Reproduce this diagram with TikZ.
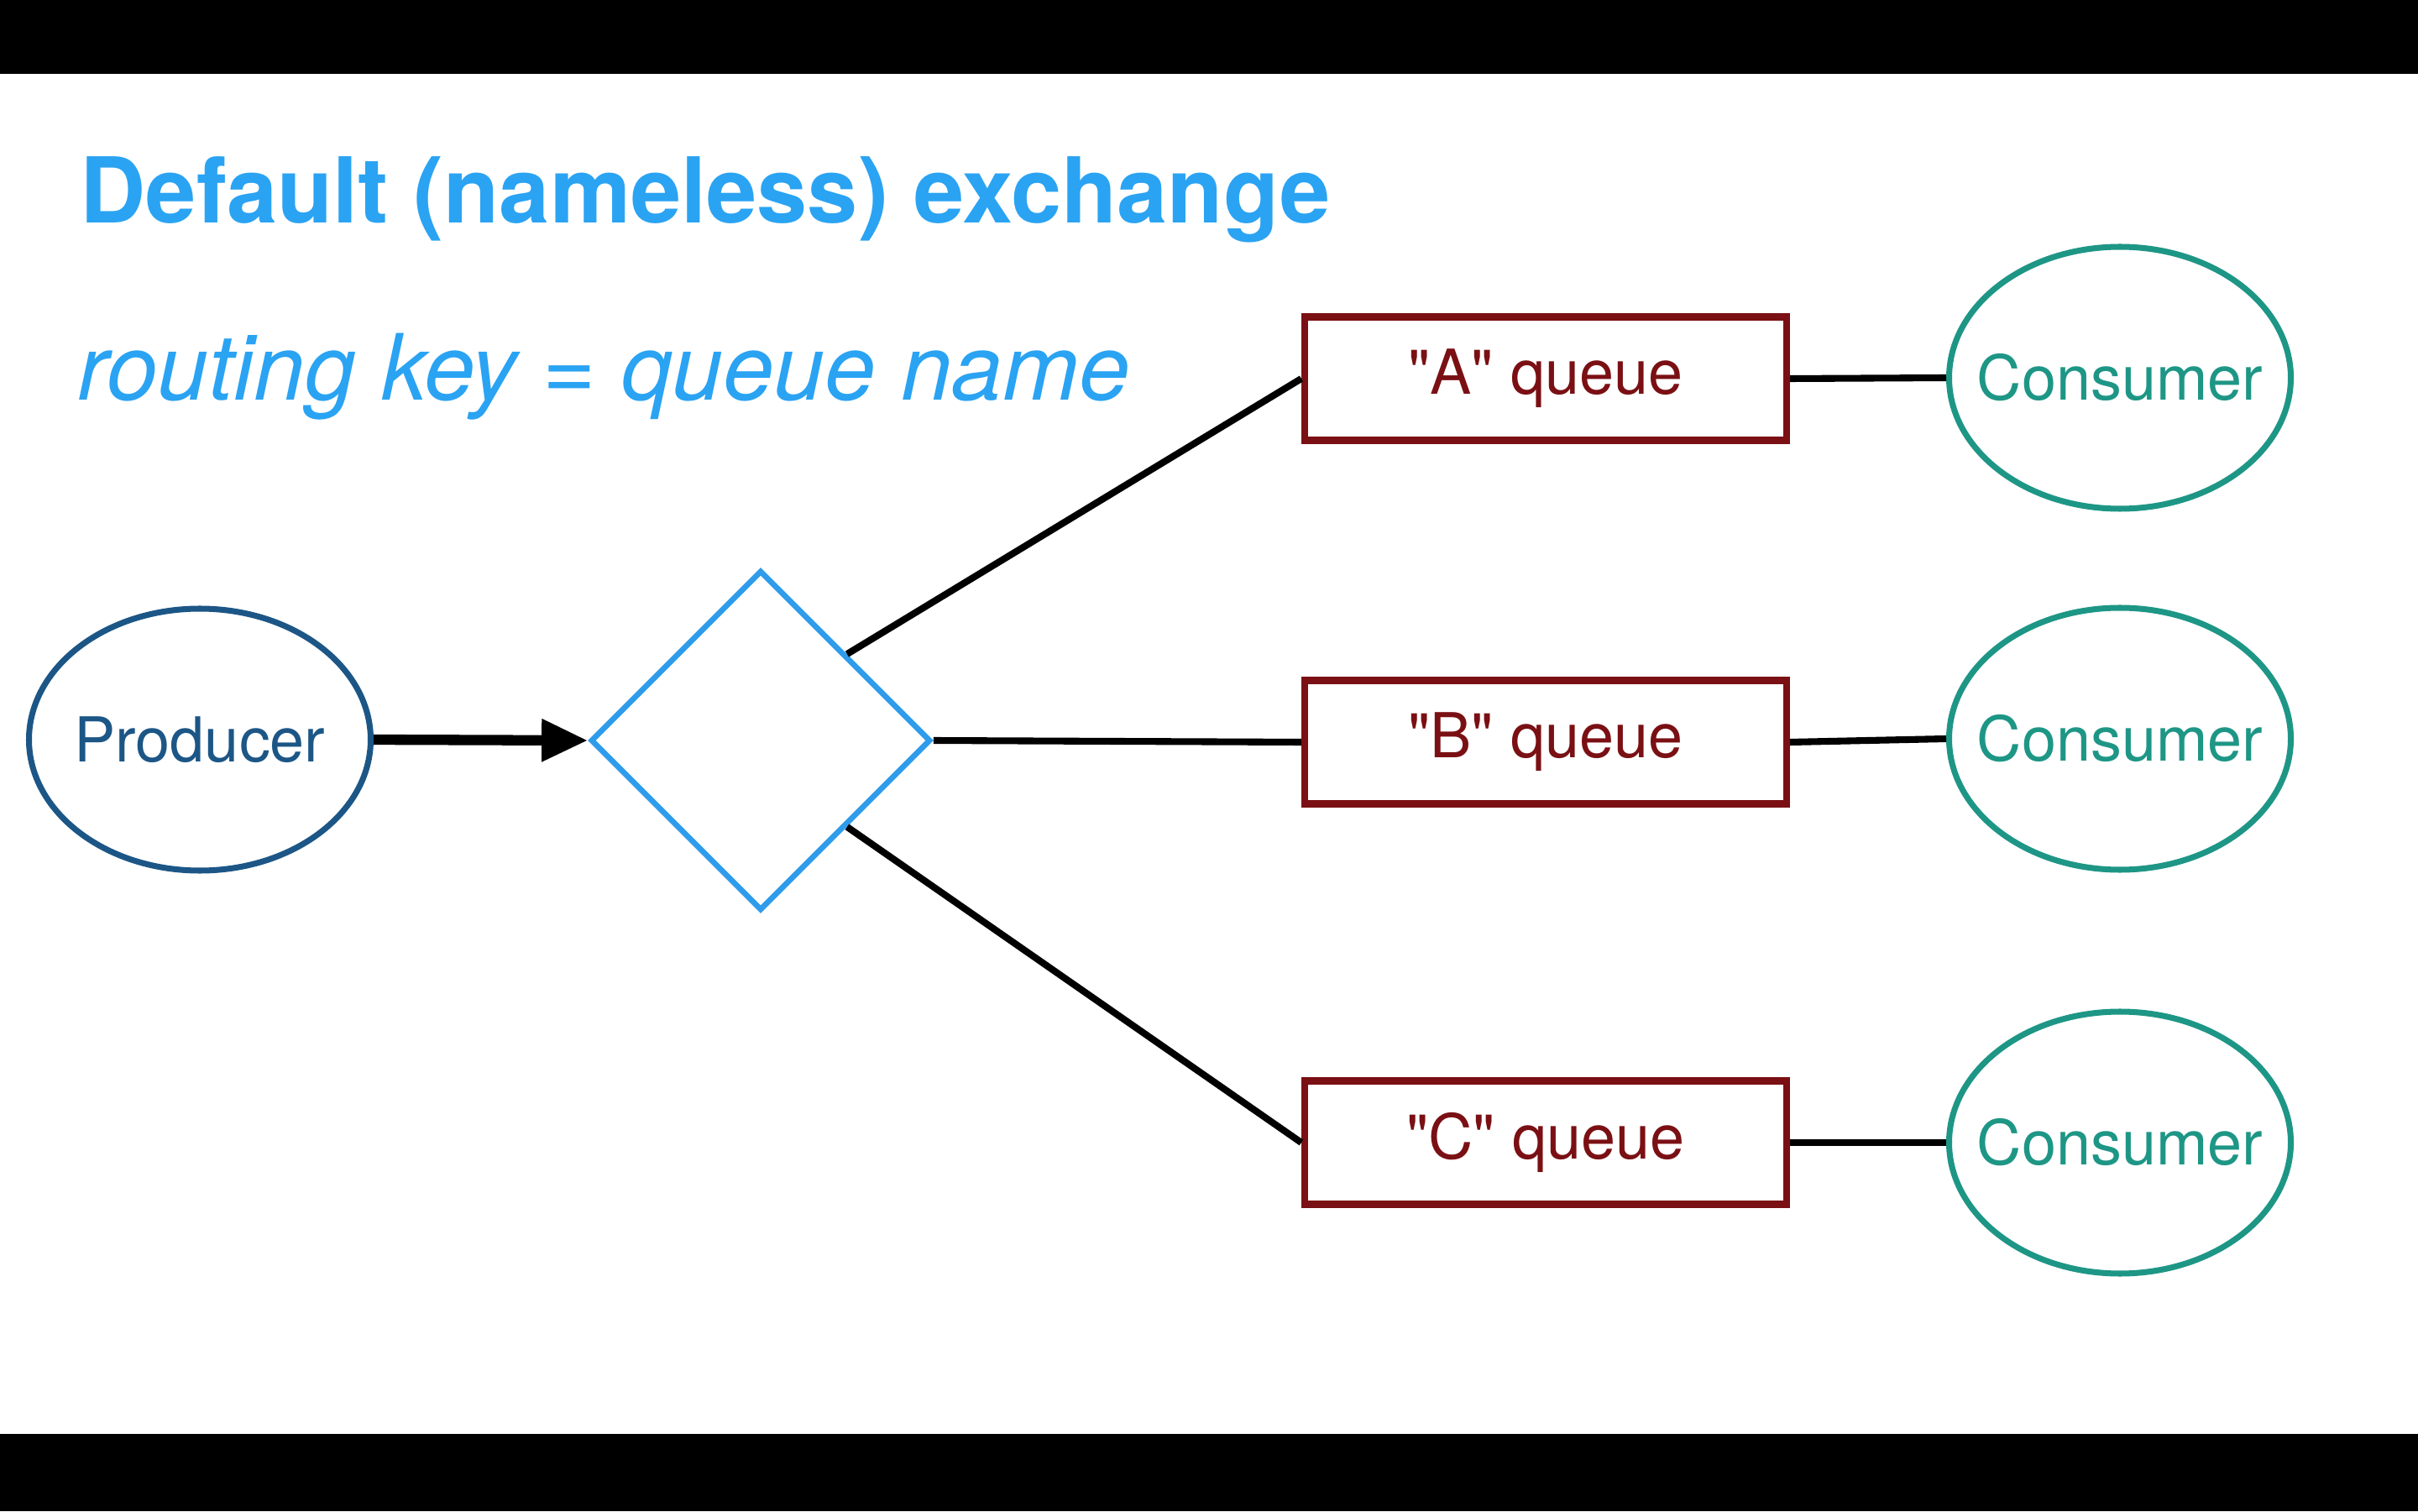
\documentclass[tikz,border=0pt]{standalone}
\usepackage{fontspec}
\setmainfont{TeX Gyre Heros}
\usepackage{xcolor}
\usepackage{tikz}
\usetikzlibrary{calc,shapes.geometric,arrows.meta}
\definecolor{bar}{HTML}{000000}
\definecolor{paper}{HTML}{FFFFFF}
\definecolor{sky}{HTML}{2AA3F3}
\definecolor{navy}{HTML}{1C5686}
\definecolor{xblue}{HTML}{2F9CEB}
\definecolor{qred}{HTML}{7A1014}
\definecolor{cgreen}{HTML}{1E9686}
\definecolor{wire}{HTML}{000000}
\newcommand{\qname}[1]{\textquotedbl#1\textquotedbl{} queue}
\tikzset{
  ttl/.style={text=sky, font=\fontsize{30.8}{36}\selectfont\bfseries, inner sep=0pt, anchor=base west},
  sub/.style={text=sky, font=\fontsize{31}{36}\selectfont\itshape, inner sep=0pt, anchor=base west},
  lab/.style={font=\fontsize{21}{25}\selectfont, inner sep=0pt},
  prodnode/.style={lab, ellipse, draw=navy, text=navy, line width=2pt, minimum width=4.07cm, minimum height=3.12cm},
  xchgnode/.style={diamond, draw=xblue, line width=1.9pt, minimum width=4.05cm, minimum height=4.05cm, inner sep=0pt},
  queuenode/.style={lab, rectangle, draw=qred, text=qred, line width=2.3pt, minimum width=5.74cm, minimum height=1.47cm},
  consnode/.style={lab, ellipse, draw=cgreen, text=cgreen, line width=2pt, minimum width=4.07cm, minimum height=3.12cm},
  link/.style={draw=wire, line width=2.3pt},
  push/.style={draw=wire, line width=3.5pt, -{Triangle[length=0.55cm,width=0.48cm]}}
}
\begin{document}
\begin{tikzpicture}
  \fill[paper] (0,0) rectangle (28.8,18);
  \fill[bar] (0,17.12) rectangle (28.8,18);
  \fill[bar] (0,0) rectangle (28.8,0.92);
  \node[ttl] (title) at (0.95,15.34) {Default (nameless) exchange};
  \node[sub] (rule) at (0.92,13.23) {routing key = queue name};
  \node[prodnode] (prod) at (2.38,9.19) {\makebox[0pt]{Producer}};
  \node[xchgnode] (xchg) at (9.06,9.18) {};
  \node[queuenode] (qA) at (18.41,13.49) {\qname{A}};
  \node[queuenode] (qB) at (18.41,9.16) {\qname{B}};
  \node[queuenode] (qC) at (18.41,4.39) {\qname{C}};
  \node[consnode] (consA) at (25.25,13.50) {\makebox[0pt]{Consumer}};
  \node[consnode] (consB) at (25.25,9.20) {\makebox[0pt]{Consumer}};
  \node[consnode] (consC) at (25.25,4.39) {\makebox[0pt]{Consumer}};
  \draw[push] (prod.east) -- (xchg.west);
  \draw[link] (xchg.north east) -- (qA.west);
  \draw[link] (xchg.east) -- (qB.west);
  \draw[link] (xchg.south east) -- (qC.west);
  \foreach \q/\c in {qA/consA,qB/consB,qC/consC}
    \draw[link] (\q.east) -- (\c.west);
\end{tikzpicture}
\end{document}
